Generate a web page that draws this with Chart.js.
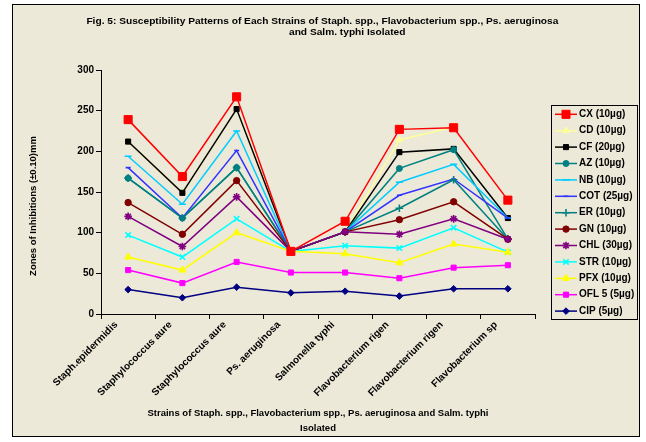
<!DOCTYPE html>
<html>
<head>
<meta charset="utf-8">
<script src="https://cdn.jsdelivr.net/npm/chart.js@4.4.0/dist/chart.umd.min.js"></script>
<style>
  html, body { margin: 0; padding: 0; background: #ffffff; }
  canvas { display: block; }
</style>
</head>
<body>
<canvas id="chart" width="646" height="442"></canvas>
<script>
// Strains tested (as printed along the x axis)
const strains = [
  'Staph.epidermidis',
  'Staphylococcus aure',
  'Staphylococcus aure',
  'Ps. aeruginosa',
  'Salmonella typhi',
  'Flavobacterium rigen',
  'Flavobacterium rigen',
  'Flavobacterium sp'
];

// Zones of inhibition for each antibiotic disc
const CX  = [239, 169, 267, 77, 114, 227, 229, 140];
const CD  = [212, 149, 252, 77, 101, 214, 230, null];
const CF  = [212, 149, 252, 77, 101, 199, 203, 118];
const AZ  = [167, 118, 180, 77, 101, 179, 202, 92];
const NB  = [194, 135, 225, 77, 101, 162, 184, 118];
const COT = [180, 118, 201, 77, 101, 146, 166, 118];
const ER  = [167, 118, 180, 77, 101, 130, 165, 92];
const GN  = [137, 98, 164, 77, 101, 116, 138, 92];
const CHL = [120, 83, 144, 77, 101, 98, 117, 92];
const STR = [97, 70, 117, 77, 84, 81, 106, 76];
const PFX = [70, 54, 100, 77, 74, 63, 86, 76];
const OFL = [54, 38, 64, 51, 51, 44, 57, 60];
const CIP = [30, 20, 33, 26, 28, 22, 31, 31];

const seriesNames = ['CX (10µg)', 'CD (10µg)', 'CF (20µg)', 'AZ (10µg)', 'NB (10µg)', 'COT (25µg)',
  'ER (10µg)', 'GN (10µg)', 'CHL (30µg)', 'STR (10µg)', 'PFX (10µg)', 'OFL 5 (5µg)', 'CIP (5µg)'];
const seriesValues = [CX, CD, CF, AZ, NB, COT, ER, GN, CHL, STR, PFX, OFL, CIP];

const yTicks = [0, 50, 100, 150, 200, 250, 300];

const mainTitle = [
  'Fig. 5: Susceptibility Patterns of Each Strains of Staph. spp., Flavobacterium spp., Ps. aeruginosa',
  'and Salm. typhi Isolated'
];
const xTitle = ['Strains of Staph. spp., Flavobacterium spp., Ps. aeruginosa and Salm. typhi', 'Isolated'];
const yTitle = 'Zones of Inhibitions (±0.10)mm';

// Line colour, marker shape and marker size per series
const styles = [
  { color: '#FF0000', point: 'rect',     r: 5.7 },
  { color: '#FFFF99', point: 'triangle', r: 3.8 },
  { color: '#000000', point: 'rect',     r: 3.6 },
  { color: '#008080', point: 'circle',   r: 3.0 },
  { color: '#00CCFF', point: 'line',     r: 3.5 },
  { color: '#3333FF', point: 'line',     r: 2.5 },
  { color: '#008080', point: 'cross',    r: 3.8 },
  { color: '#800000', point: 'circle',   r: 3.2 },
  { color: '#800080', point: 'star',     r: 3.8 },
  { color: '#00FFFF', point: 'crossRot', r: 3.8 },
  { color: '#FFFF00', point: 'triangle', r: 4.0 },
  { color: '#FF00FF', point: 'rect',     r: 3.6 },
  { color: '#000080', point: 'rectRot',  r: 3.3 }
];

const FONT = '"Liberation Sans", Arial, sans-serif';
const BG = '#ECE9D8';

function strokeOnly(style) {
  return style.point === 'line' || style.point.indexOf('cross') === 0 || style.point === 'star';
}

const datasets = seriesValues.map((vals, i) => ({
  label: seriesNames[i],
  data: vals,
  borderColor: styles[i].color,
  backgroundColor: styles[i].color,
  pointBackgroundColor: styles[i].color,
  pointBorderColor: styles[i].color,
  pointStyle: styles[i].point,
  pointRadius: styles[i].r,
  pointBorderWidth: strokeOnly(styles[i]) ? 1.6 : 1,
  borderWidth: 1.5,
  tension: 0,
  spanGaps: false,
  // later series are painted over earlier ones; CX stays on top
  order: i === 0 ? 0 : seriesValues.length - i
}));

function drawMarker(ctx, style, x, y) {
  ctx.save();
  ctx.fillStyle = style.color;
  ctx.strokeStyle = style.color;
  ctx.lineWidth = strokeOnly(style) ? 1.6 : 1;
  Chart.helpers.drawPoint(ctx, { pointStyle: style.point, radius: style.r, rotation: 0, borderWidth: ctx.lineWidth }, x, y);
  ctx.restore();
}

// Frame, background, headings and the boxed legend
const decorations = {
  id: 'decorations',
  beforeDraw(chart) {
    const ctx = chart.ctx;
    ctx.save();
    ctx.fillStyle = '#ffffff';
    ctx.fillRect(0, 0, chart.width, chart.height);
    ctx.fillStyle = BG;
    ctx.fillRect(12, 4, 628, 433);
    ctx.strokeStyle = '#000000';
    ctx.lineWidth = 1;
    ctx.strokeRect(12.5, 4.5, 627, 432);
    ctx.restore();
  },
  afterDraw(chart) {
    const ctx = chart.ctx;
    ctx.save();
    ctx.fillStyle = '#000000';
    ctx.textBaseline = 'middle';
    ctx.textAlign = 'center';

    // chart heading
    ctx.font = 'bold 9.5px ' + FONT;
    const w1 = ctx.measureText(mainTitle[0]).width;
    const sx = 472 / w1;
    const titlePos = [[322.4, 21.8], [347.2, 32.8]];
    mainTitle.forEach((line, i) => {
      ctx.save();
      ctx.translate(titlePos[i][0], titlePos[i][1]);
      ctx.scale(sx, 1);
      ctx.fillText(line, 0, 0);
      ctx.restore();
    });

    // value axis heading
    ctx.save();
    ctx.translate(33.3, 206);
    ctx.rotate(-Math.PI / 2);
    ctx.font = 'bold 9.5px ' + FONT;
    ctx.fillText(yTitle, 0, 0);
    ctx.restore();

    // legend
    const lx = 551, ly = 105, lw = 86, lh = 214;
    ctx.strokeStyle = '#000000';
    ctx.lineWidth = 1;
    ctx.strokeRect(lx + 0.5, ly + 0.5, lw, lh);
    ctx.font = 'bold 10px ' + FONT;
    ctx.textAlign = 'left';
    seriesNames.forEach((name, i) => {
      const y = 114.3 + i * 16.4;
      ctx.strokeStyle = styles[i].color;
      ctx.lineWidth = 1.5;
      ctx.beginPath();
      ctx.moveTo(555, y);
      ctx.lineTo(577, y);
      ctx.stroke();
      drawMarker(ctx, styles[i], 566, y);
      ctx.fillStyle = '#000000';
      ctx.fillText(name, 579, y);
    });
    ctx.restore();
  }
};

new Chart(document.getElementById('chart'), {
  type: 'line',
  data: { labels: strains, datasets },
  options: {
    responsive: false,
    animation: false,
    events: [],
    layout: { padding: { left: 24, top: 70, right: 111, bottom: 0 } },
    plugins: {
      legend: { display: false },
      title: { display: false },
      tooltip: { enabled: false }
    },
    scales: {
      x: {
        offset: true,
        grid: { offset: true, drawOnChartArea: false, drawTicks: true, tickLength: 5, color: '#000000' },
        border: { color: '#000000', width: 1 },
        ticks: {
          autoSkip: false,
          minRotation: 45,
          maxRotation: 45,
          padding: 0,
          labelOffset: -12,
          color: '#000000',
          font: { family: FONT, size: 10, weight: 'bold' }
        },
        title: {
          display: true,
          text: xTitle,
          color: '#000000',
          font: { family: FONT, size: 9.5, weight: 'bold', lineHeight: 1.5 },
          padding: { top: 0, bottom: 7 }
        },
        afterFit(scale) { scale.height = 128; }
      },
      y: {
        min: 0,
        max: 300,
        afterBuildTicks(scale) { scale.ticks = yTicks.map(v => ({ value: v })); },
        grid: { drawOnChartArea: false, drawTicks: true, tickLength: 5, color: '#000000' },
        border: { color: '#000000', width: 1 },
        ticks: {
          padding: 2,
          color: '#000000',
          font: { family: FONT, size: 10, weight: 'bold' }
        },
        afterFit(scale) { scale.width = 77; }
      }
    }
  },
  plugins: [decorations]
});
</script>
</body>
</html>
